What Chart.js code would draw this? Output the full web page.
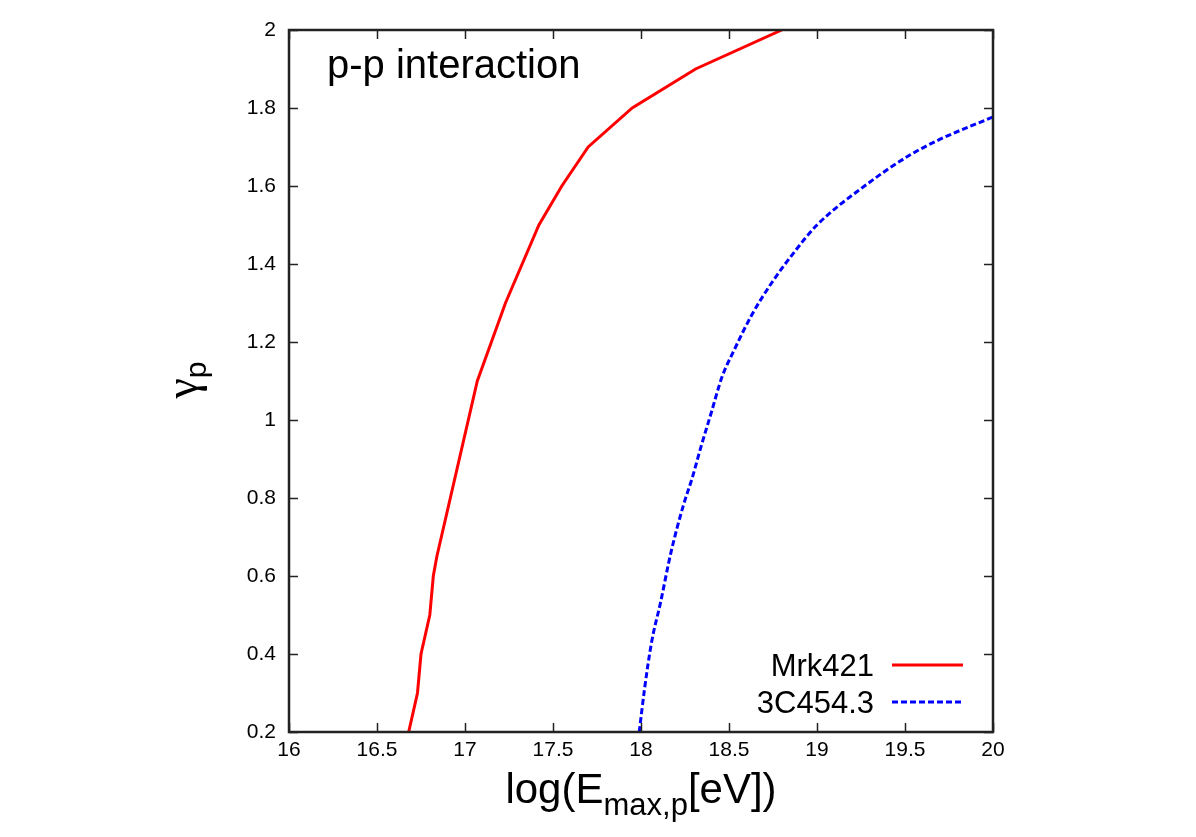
<!DOCTYPE html>
<html>
<head>
<meta charset="utf-8">
<script src="https://cdn.jsdelivr.net/npm/chart.js@4"></script>
<style>
  html, body { margin: 0; padding: 0; background: #fff; }
  #wrap { width: 1196px; height: 837px; }
</style>
</head>
<body>
<div id="wrap"><canvas id="gammaChart" width="1196" height="837"></canvas></div>
<script>
// values
const mrkX = [16.68, 16.73, 16.75, 16.80, 16.82, 16.84, 17.07, 17.23, 17.42, 17.55, 17.70, 17.95, 18.31, 18.80];
const mrkY = [0.2, 0.3, 0.4, 0.5, 0.6, 0.65, 1.1, 1.3, 1.5, 1.6, 1.7, 1.8, 1.9, 2.0];

const c3cX = [17.99, 18.02, 18.06, 18.11, 18.17, 18.24, 18.29, 18.34, 18.40, 18.46, 18.53, 18.63, 18.74, 18.87, 19.00, 19.27, 19.53, 19.70, 20.00];
const c3cY = [0.2, 0.31, 0.43, 0.53, 0.66, 0.78, 0.85, 0.93, 1.02, 1.11, 1.18, 1.27, 1.35, 1.43, 1.50, 1.60, 1.68, 1.72, 1.777];

const seriesNames = ['Mrk421', '3C454.3'];
const xTicks = [16, 16.5, 17, 17.5, 18, 18.5, 19, 19.5, 20];
const yTicks = [0.2, 0.4, 0.6, 0.8, 1, 1.2, 1.4, 1.6, 1.8, 2];

const FONT = '"Liberation Sans", Helvetica, Arial, sans-serif';

function toPoints(xs, ys) {
    return xs.map((x, i) => ({ x: x, y: ys[i] }));
}

// frame, inward ticks on all four sides, labels, legend
const gnuplotLook = {
    id: 'gnuplotLook',
    afterDraw(chart) {
        const ctx = chart.ctx;
        const a = chart.chartArea;
        const xs = chart.scales.x;
        const ys = chart.scales.y;
        const tl = 9;

        ctx.save();
        ctx.strokeStyle = '#222';
        ctx.lineWidth = 1.5;
        ctx.beginPath();
        xTicks.forEach(v => {
            const px = Math.round(xs.getPixelForValue(v)) + 0.5;
            ctx.moveTo(px, a.bottom); ctx.lineTo(px, a.bottom - tl);
            ctx.moveTo(px, a.top); ctx.lineTo(px, a.top + tl);
        });
        yTicks.forEach(v => {
            const py = Math.round(ys.getPixelForValue(v)) + 0.5;
            ctx.moveTo(a.left, py); ctx.lineTo(a.left + tl, py);
            ctx.moveTo(a.right, py); ctx.lineTo(a.right - tl, py);
        });
        ctx.stroke();

        ctx.lineWidth = 2.5;
        ctx.strokeRect(a.left, a.top, a.right - a.left, a.bottom - a.top);

        // label in upper left
        ctx.fillStyle = '#000';
        ctx.textBaseline = 'alphabetic';
        ctx.textAlign = 'left';
        ctx.font = '40px ' + FONT;
        ctx.fillText('p-p interaction', 327, 78);

        // legend, bottom right
        const ds = chart.data.datasets;
        ctx.font = '31px ' + FONT;
        ctx.textAlign = 'right';
        const rows = [676, 713];
        ds.forEach((d, i) => {
            ctx.fillStyle = '#000';
            ctx.fillText(d.label, 874, rows[i]);
            ctx.strokeStyle = d.borderColor;
            ctx.lineWidth = d.borderWidth;
            ctx.setLineDash(d.borderDash || []);
            ctx.beginPath();
            ctx.moveTo(892, rows[i] - 11);
            ctx.lineTo(963, rows[i] - 11);
            ctx.stroke();
            ctx.setLineDash([]);
        });

        // x axis title with subscript
        ctx.fillStyle = '#000';
        ctx.textAlign = 'left';
        const parts = [['log(E', 42, 0], ['max,p', 31, 12], ['[eV])', 42, 0]];
        let total = 0;
        parts.forEach(p => { ctx.font = p[1] + 'px ' + FONT; total += ctx.measureText(p[0]).width; });
        let x0 = (a.left + a.right) / 2 - total / 2;
        parts.forEach(p => {
            ctx.font = p[1] + 'px ' + FONT;
            ctx.fillText(p[0], x0, 803 + p[2]);
            x0 += ctx.measureText(p[0]).width;
        });

        // y axis title, gamma_p rotated
        ctx.translate(197, 380);
        ctx.rotate(-Math.PI / 2);
        const gFont = '46px "Liberation Serif", serif';
        ctx.font = gFont;
        const gw = ctx.measureText('\u03b3').width;
        ctx.font = '30px ' + FONT;
        const pw = ctx.measureText('p').width;
        const sx = -(gw + pw) / 2;
        ctx.font = gFont;
        ctx.fillText('\u03b3', sx, 0);
        ctx.font = '30px ' + FONT;
        ctx.fillText('p', sx + gw, 9);
        ctx.restore();
    }
};

const ctx = document.getElementById('gammaChart').getContext('2d');
new Chart(ctx, {
    type: 'scatter',
    data: {
        datasets: [{
            label: seriesNames[0],
            data: toPoints(mrkX, mrkY),
            showLine: true,
            borderColor: '#ff0000',
            borderWidth: 3,
            pointRadius: 0,
            tension: 0
        }, {
            label: seriesNames[1],
            data: toPoints(c3cX, c3cY),
            showLine: true,
            borderColor: '#0000ff',
            borderWidth: 3,
            borderDash: [6, 3],
            pointRadius: 0,
            cubicInterpolationMode: 'monotone'
        }]
    },
    options: {
        responsive: false,
        animation: false,
        layout: { padding: { left: 0, right: 203, top: 30, bottom: 0 } },
        plugins: {
            legend: { display: false },
            tooltip: { enabled: false }
        },
        scales: {
            x: {
                type: 'linear',
                min: 16,
                max: 20,
                afterFit: s => { s.height = 105; },
                afterBuildTicks: s => { s.ticks = xTicks.map(v => ({ value: v })); },
                grid: { display: false, drawTicks: false },
                border: { display: false },
                ticks: {
                    padding: 6,
                    color: '#000',
                    font: { family: FONT, size: 21 },
                    callback: v => String(v)
                }
            },
            y: {
                type: 'linear',
                min: 0.2,
                max: 2,
                afterFit: s => { s.width = 289; },
                afterBuildTicks: s => { s.ticks = yTicks.map(v => ({ value: v })); },
                grid: { display: false, drawTicks: false },
                border: { display: false },
                ticks: {
                    padding: 13,
                    color: '#000',
                    font: { family: FONT, size: 21 },
                    callback: v => String(Number(v.toFixed(1)))
                }
            }
        }
    },
    plugins: [gnuplotLook]
});
</script>
</body>
</html>
